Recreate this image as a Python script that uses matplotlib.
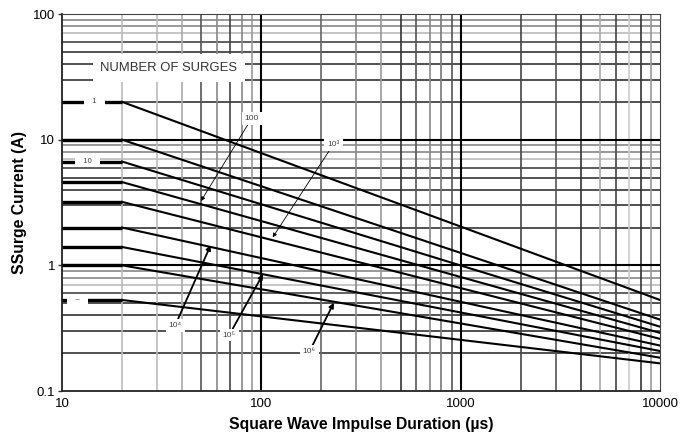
import matplotlib
matplotlib.use("Agg")
import matplotlib.pyplot as plt

plt.rcParams['font.family'] = ['Liberation Sans', 'DejaVu Sans']

# 曲线数据：10~20 µs 为平台，之后在双对数坐标下直线下降到 10000 µs
knee_x = 20
x_start = 10
x_end = 10000
plateau = [20, 10, 6.7, 4.6, 3.2, 2.0, 1.4, 1.0, 0.53]
end_level = [0.53, 0.37, 0.325, 0.29, 0.26, 0.23, 0.208, 0.184, 0.166]

# 曲线上的标签（浪涌次数）
curve_label_idx = [0, 2, 8]
curve_label_x = [14.6, 13.4, 12.0]
curve_label_txt = ["1", "10", "–"]

# 带箭头的标签
arrow_txt = ["100", "10³", "10⁴", "10⁵", "10⁶"]
arrow_text_xy = [(89.5, 14.8), (230, 9.2), (36.9, 0.33), (69, 0.279), (174, 0.205)]
arrow_head_xy = [(49.8, 3.25), (114, 1.67), (55.7, 1.45), (102, 0.853), (231, 0.504)]
arrow_thick = [False, False, True, True, True]

# 网格线灰度（对数纸上深浅不一）
h_grid_color = {2: '#333333', 3: '#333333', 4: '#333333', 5: '#333333',
                6: '#444444', 7: '#bbbbbb', 8: '#888888', 9: '#888888'}
v_grid_color = {
    10: {2: '#bbbbbb', 3: '#bbbbbb', 4: '#aaaaaa', 5: '#555555', 6: '#888888',
         7: '#444444', 8: '#888888', 9: '#999999'},
    100: {2: '#666666', 3: '#888888', 4: '#999999', 5: '#333333', 6: '#555555',
          7: '#888888', 8: '#777777', 9: '#555555'},
    1000: {2: '#444444', 3: '#555555', 4: '#333333', 5: '#aaaaaa', 6: '#444444',
           7: '#cccccc', 8: '#333333', 9: '#999999'},
}

fig = plt.figure(figsize=(6.96, 4.38), dpi=100)
ax = fig.add_axes([0.0891, 0.1073, 0.8592, 0.8607])
ax.set_xscale('log')
ax.set_yscale('log')
ax.set_xlim(10, 10000)
ax.set_ylim(0.1, 100)

# 网格
for dec in [0.1, 1, 10]:
    for m in range(2, 10):
        ax.axhline(dec * m, color=h_grid_color[m], lw=1.2, zorder=1)
for dec in [1, 10]:
    ax.axhline(dec, color='black', lw=1.5, zorder=1.2)
for dec in [10, 100, 1000]:
    for m in range(2, 10):
        ax.axvline(dec * m, color=v_grid_color[dec][m], lw=1.2, zorder=1)
for dec in [100, 1000]:
    ax.axvline(dec, color='black', lw=1.5, zorder=1.2)

# 曲线
for p, e in zip(plateau, end_level):
    ax.plot([x_start, knee_x], [p, p], color='black', lw=2.4, zorder=3,
            solid_capstyle='butt')
    ax.plot([knee_x, x_end], [p, e], color='black', lw=1.5, zorder=3)

for i, lx, t in zip(curve_label_idx, curve_label_x, curve_label_txt):
    ax.text(lx, plateau[i], "   " + t + "   ", fontsize=5.5, ha='center',
            va='center', color='#444444', zorder=5,
            bbox=dict(boxstyle='square,pad=0.25', fc='white', ec='none'))

ax.text(34.4, 37, "NUMBER OF SURGES", fontsize=9.4, ha='center', va='center',
        color='#333333', zorder=5,
        bbox=dict(boxstyle='square,pad=0.6', fc='white', ec='none'))

for t, txy, hxy, thick in zip(arrow_txt, arrow_text_xy, arrow_head_xy, arrow_thick):
    lw = 1.3 if thick else 0.6
    ax.annotate(t, xy=hxy, xytext=txy, fontsize=6, ha='center', va='center',
                color='#444444', zorder=6,
                bbox=dict(boxstyle='square,pad=0.35', fc='white', ec='none'),
                arrowprops=dict(arrowstyle='-|>', color='black', lw=lw,
                                mutation_scale=7 if thick else 6,
                                shrinkA=0, shrinkB=0))

ax.set_xticks([10, 100, 1000, 10000])
ax.set_xticklabels(["10", "100", "1000", "10000"])
ax.set_yticks([0.1, 1, 10, 100])
ax.set_yticklabels(["0.1", "1", "10", "100"])
ax.minorticks_off()
ax.tick_params(axis='both', labelsize=9.5, length=3, width=1, color='#333333',
               pad=2)
ax.tick_params(axis='x', length=0, pad=5)

for s in ['top', 'right']:
    ax.spines[s].set_color('#444444')
for s in ['left', 'bottom']:
    ax.spines[s].set_color('#222222')
    ax.spines[s].set_linewidth(1.3)

ax.set_xlabel("Square Wave Impulse Duration (µs)", fontsize=11.3,
              fontweight='bold', labelpad=5)
ax.set_ylabel("SSurge Current (A)", fontsize=11.3, fontweight='bold',
              labelpad=4)

fig.savefig("out.png", dpi=100)
